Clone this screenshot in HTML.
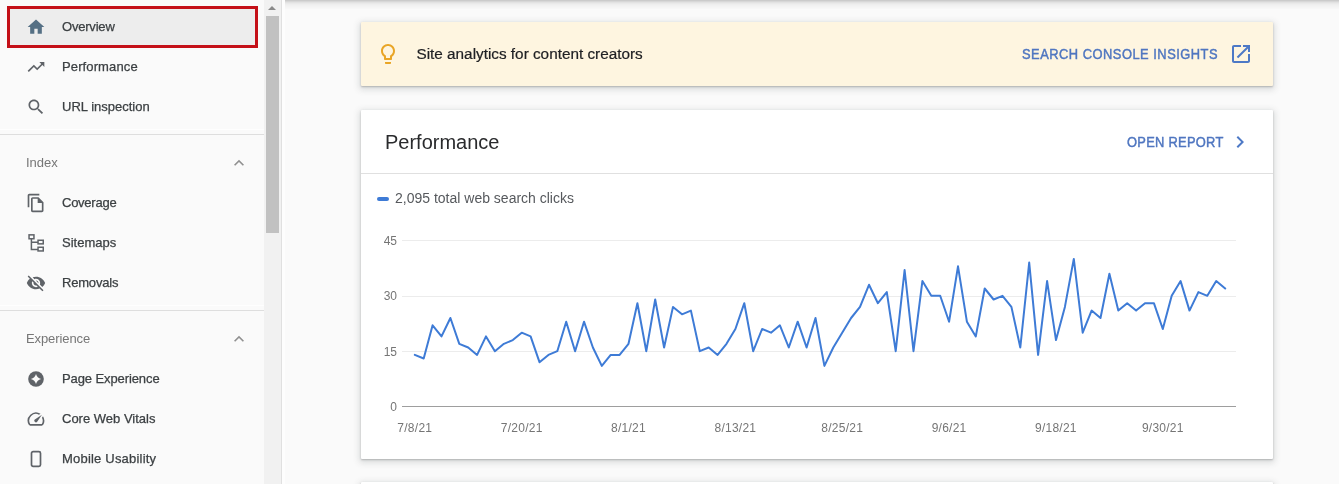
<!DOCTYPE html>
<html><head><meta charset="utf-8">
<style>
*{box-sizing:border-box;margin:0;padding:0}
html,body{width:1339px;height:484px;overflow:hidden;background:#fafafa;font-family:"Liberation Sans",Arial,sans-serif;position:relative}
.abs{position:absolute}
#nav{left:0;top:0;width:264px;height:484px;background:#fafafa}
#track{left:264px;top:0;width:17px;height:484px;background:#f1f1f1}
#thumb{left:266px;top:16px;width:13px;height:217px;background:#c1c1c1}
#arrow{left:268px;top:6px;width:0;height:0;border-left:4px solid transparent;border-right:4px solid transparent;border-bottom:4px solid #8a8a8a}
#vline{left:281px;top:0;width:1px;height:484px;background:#e0e0e0}
#vwhite{left:282px;top:0;width:3px;height:484px;background:#fdfdfd}
#topshadow{left:285px;top:0;width:1054px;height:10px;background:linear-gradient(to bottom,#cbcbcb 0.5px,#d7d7d7 1.5px,#e2e2e2 2.5px,#e9e9e9 3.5px,#eeeeee 4.5px,#f1f1f1 5.5px,#f3f3f3 6.5px,#f5f5f5 7.5px,#f7f7f7 8.5px,#fafafa 9.5px)}
.item{position:absolute;left:0;width:264px;height:40px}
.item svg{position:absolute;left:26px;top:10px;width:20px;height:20px;fill:#5f6368}
.item span{position:absolute;left:62px;top:0;line-height:40px;font-size:13px;color:#3c4043;-webkit-text-stroke:0.25px #3c4043;white-space:nowrap}
.sect{position:absolute;left:26px;font-size:13px;color:#767676;line-height:20px}
.chev{position:absolute;left:229px;width:20px;height:20px;fill:#909090}
.divider{position:absolute;left:0;width:264px;height:1px;background:#dedede}
.wl{position:absolute;left:0;width:264px;height:1px;background:#fefefe}
#sel{left:7px;top:6px;width:251px;height:42px;border:3px solid #c41018;background:#ededed}
.card{position:absolute;left:361px;width:912px;background:#fff;box-shadow:0 1px 2px rgba(60,64,67,.3),0 2px 6px 2px rgba(60,64,67,.15);border-radius:1px}
#banner{top:22px;height:64px;background:#fef5e0}
#perf{top:110px;height:349px}
#next{top:482px;height:40px}
.link{position:absolute;color:#4f76c0;font-size:14px;font-weight:normal;-webkit-text-stroke:0.45px #4f76c0;white-space:nowrap;transform:scaleX(0.92);transform-origin:0 0}
</style></head><body>
<div id="nav" class="abs">
  <div id="sel" class="abs"></div>
  <div class="item" style="top:7px">
    <svg viewBox="0 0 24 24" style="fill:#557085"><path d="M10 20v-6h4v6h5v-8h3L12 3 2 12h3v8z"/></svg>
    <span style="letter-spacing:-0.2px">Overview</span>
  </div>
  <div class="item" style="top:47px">
    <svg viewBox="0 0 24 24"><path d="M16 6l2.29 2.29-4.88 4.88-4-4L2 16.59 3.41 18l6-6 4 4 6.3-6.29L22 12V6z"/></svg>
    <span style="letter-spacing:0.12px">Performance</span>
  </div>
  <div class="item" style="top:87px">
    <svg viewBox="0 0 24 24"><path d="M15.5 14h-.79l-.28-.27C15.41 12.59 16 11.11 16 9.5 16 5.91 13.09 3 9.5 3S3 5.91 3 9.5 5.91 16 9.5 16c1.61 0 3.09-.59 4.230-1.57l.27.28v.79l5 4.99L20.49 19l-4.99-5zm-6 0C7.01 14 5 11.99 5 9.5S7.010 5 9.5 5 14 7.01 14 9.5 11.99 14 9.5 14z"/></svg>
    <span>URL inspection</span>
  </div>
  <div class="wl" style="top:129px"></div><div class="divider" style="top:134px"></div>
  <div class="sect" style="top:153px">Index</div>
  <svg class="chev" viewBox="0 0 24 24" style="top:153px"><path d="M12 8l-6 6 1.41 1.41L12 10.83l4.59 4.58L18 14z"/></svg>
  <div class="item" style="top:183px">
    <svg viewBox="0 0 24 24"><path d="M16 1H4c-1.1 0-2 .9-2 2v14h2V3h12V1zm-1 4H8c-1.1 0-1.99.9-1.99 2L6 21c0 1.1.89 2 1.99 2H19c1.1 0 2-.9 2-2V11l-6-6zM8 21V7h6v5h5v9H8z"/></svg>
    <span style="letter-spacing:-0.25px">Coverage</span>
  </div>
  <div class="item" style="top:223px">
    <svg viewBox="0 0 20 20" style="fill:none;stroke:#5f6368;stroke-width:1.5"><rect x="3.05" y="1.85" width="4.9" height="3.9"/><path d="M5.4 5.8V16.9M4.65 16.6H12M5.4 9.3H12"/><rect x="12.05" y="7.25" width="5.2" height="3.6"/><rect x="12.05" y="14.25" width="5.2" height="3.7"/></svg>
    <span>Sitemaps</span>
  </div>
  <div class="item" style="top:263px">
    <svg viewBox="0 0 24 24"><path d="M12 7c2.76 0 5 2.24 5 5 0 .65-.13 1.26-.36 1.83l2.92 2.92c1.51-1.26 2.7-2.89 3.43-4.75-1.73-4.39-6-7.5-11-7.5-1.4 0-2.74.25-3.98.7l2.16 2.16C10.74 7.13 11.35 7 12 7zM2 4.27l2.28 2.28.46.46C3.08 8.3 1.78 10.02 1 12c1.73 4.39 6 7.5 11 7.5 1.550 0 3.03-.3 4.38-.84l.42.42L19.73 22 21 20.73 3.27 3 2 4.27zM7.53 9.8l1.55 1.55c-.05.21-.08.43-.08.65 0 1.66 1.34 3 3 3 .22 0 .44-.03.65-.08l1.55 1.55c-.67.33-1.41.53-2.2.53-2.76 0-5-2.24-5-5 0-.79.2-1.53.53-2.2zm4.31-.78l3.15 3.15.02-.16c0-1.66-1.34-3-3-3l-.17.01z"/></svg>
    <span style="letter-spacing:-0.2px">Removals</span>
  </div>
  <div class="wl" style="top:305px"></div><div class="divider" style="top:310px"></div>
  <div class="sect" style="top:329px;letter-spacing:-0.1px">Experience</div>
  <svg class="chev" viewBox="0 0 24 24" style="top:329px"><path d="M12 8l-6 6 1.41 1.41L12 10.83l4.590 4.58L18 14z"/></svg>
  <div class="item" style="top:359px">
    <svg viewBox="0 0 20 20"><circle cx="10" cy="10" r="7.8"/><path d="M10 4.9Q11.1 8.9 15.1 10 11.1 11.1 10 15.1 8.9 11.1 4.9 10 8.9 8.9 10 4.9z" fill="#fafafa"/></svg>
    <span style="letter-spacing:-0.1px">Page Experience</span>
  </div>
  <div class="item" style="top:399px">
    <svg viewBox="0 0 24 24"><path d="M20.38 8.57l-1.23 1.85a8 8 0 0 1-.22 7.58H5.07A8 8 0 0 1 15.58 6.85l1.85-1.23A10 10 0 0 0 3.35 19a2 2 0 0 0 1.72 1h13.85a2 2 0 0 0 1.74-1 10 10 0 0 0-.27-10.44zm-9.79 6.84a2 2 0 0 0 2.83 0l5.66-8.490-8.49 5.66a2 2 0 0 0 0 2.83z"/></svg>
    <span>Core Web Vitals</span>
  </div>
  <div class="item" style="top:439px">
    <svg viewBox="0 0 20 20" style="fill:none;stroke:#5f6368;stroke-width:1.7"><rect x="5.5" y="2.7" width="9" height="14.6" rx="1.6"/></svg>
    <span style="letter-spacing:0.2px">Mobile Usability</span>
  </div>
</div>
<div id="track" class="abs"></div>
<div id="thumb" class="abs"></div>
<div id="arrow" class="abs"></div>
<div id="vline" class="abs"></div>
<div id="vwhite" class="abs"></div>
<div id="topshadow" class="abs"></div>

<div id="banner" class="card">
  <svg class="abs" viewBox="0 0 24 24" style="left:15px;top:20px;width:24px;height:24px;fill:#e9a526"><path d="M9 21c0 .55.45 1 1 1h4c.55 0 1-.45 1-1v-1H9v1zm3-19C8.14 2 5 5.14 5 9c0 2.38 1.19 4.47 3 5.74V17c0 .55.45 1 1 1h6c.55 0 1-.45 1-1v-2.26c1.81-1.27 3-3.36 3-5.74 0-3.86-3.14-7-7-7zm2.85 11.1l-.85.6V16h-4v-2.3l-.85-.6C7.8 12.16 7 10.63 7 9c0-2.76 2.24-5 5-5s5 2.24 5 5c0 1.63-.8 3.16-2.15 4.1z"/></svg>
  <div class="abs" style="left:55.5px;top:0;line-height:64px;font-size:15.3px;color:#202124;-webkit-text-stroke:0.2px #202124;white-space:nowrap">Site analytics for content creators</div>
  <div class="link" style="left:661px;top:0;line-height:64px;letter-spacing:0.54px">SEARCH CONSOLE INSIGHTS</div>
  <svg class="abs" viewBox="0 0 24 24" style="left:868px;top:20px;width:24px;height:24px;fill:#4d79c6"><path d="M19 19H5V5h7V3H5c-1.11 0-2 .9-2 2v14c0 1.1.89 2 2 2h14c1.1 0 2-.9 2-2v-7h-2v7zM14 3v2h3.59l-9.83 9.83 1.41 1.41L19 6.41V10h2V3h-7z"/></svg>
</div>

<div id="perf" class="card">
  <div class="abs" style="left:24px;top:20px;font-size:20px;line-height:24px;color:#2a2b2d">Performance</div>
  <div class="link" style="left:766px;top:22px;line-height:20px;letter-spacing:0.3px">OPEN REPORT</div>
  <svg class="abs" viewBox="0 0 24 24" style="left:867px;top:20px;width:24px;height:24px;fill:#4d79c6"><path d="M10 6L8.59 7.41 13.17 12l-4.58 4.59L10 18l6-6z"/></svg>
  <div class="abs" style="left:0;top:63px;width:912px;height:1px;background:#e0e0e0"></div>
  <div class="abs" style="left:16px;top:87px;width:12px;height:4px;border-radius:2px;background:#3e7bd6"></div>
  <div class="abs" style="left:34px;top:79px;font-size:14px;line-height:18px;color:#56595d;white-space:nowrap">2,095 total web search clicks</div>
</div>
<div id="next" class="card"></div>

<svg class="abs" style="left:0;top:0" width="1339" height="484" viewBox="0 0 1339 484">
  <g stroke="#ececec" stroke-width="1">
    <line x1="402" y1="240.5" x2="1236" y2="240.5"/>
    <line x1="402" y1="296.5" x2="1236" y2="296.5"/>
    <line x1="402" y1="351.5" x2="1236" y2="351.5"/>
  </g>
  <line x1="402" y1="406.5" x2="1236" y2="406.5" stroke="#9e9e9e" stroke-width="1"/>
  <g font-family="Liberation Sans, Arial, sans-serif" font-size="12" fill="#757575" text-anchor="end">
    <text x="397" y="245">45</text>
    <text x="397" y="300">30</text>
    <text x="397" y="356">15</text>
    <text x="397" y="411">0</text>
  </g>
  <g font-family="Liberation Sans, Arial, sans-serif" font-size="12" fill="#757575" text-anchor="middle" letter-spacing="0.25">
    <text x="414.8" y="432">7/8/21</text>
    <text x="521.7" y="432">7/20/21</text>
    <text x="628.5" y="432">8/1/21</text>
    <text x="735.4" y="432">8/13/21</text>
    <text x="842.2" y="432">8/25/21</text>
    <text x="949.1" y="432">9/6/21</text>
    <text x="1055.9" y="432">9/18/21</text>
    <text x="1162.8" y="432">9/30/21</text>
  </g>
  <polyline fill="none" stroke="#3e7bd6" stroke-width="2" stroke-linejoin="round" stroke-linecap="round" points="414.8,354.9 423.7,358.5 432.6,325.3 441.5,336.4 450.4,318.0 459.3,343.8 468.2,347.5 477.1,354.9 486.0,336.4 494.9,351.2 503.9,343.8 512.8,340.1 521.7,332.7 530.6,336.4 539.5,362.2 548.4,354.9 557.3,351.2 566.2,321.7 575.1,351.2 584.0,321.7 592.9,347.5 601.8,365.9 610.7,354.9 619.6,354.9 628.5,343.8 637.4,303.2 646.3,351.2 655.2,299.5 664.1,347.5 673.0,306.9 682.0,314.3 690.9,310.6 699.8,351.2 708.7,347.5 717.6,354.9 726.5,343.8 735.4,329.0 744.3,303.2 753.2,351.2 762.1,329.0 771.0,332.7 779.9,325.3 788.8,347.5 797.7,321.7 806.6,347.5 815.5,318.0 824.4,365.9 833.3,347.5 842.2,332.7 851.1,318.0 860.0,306.9 869.0,284.8 877.9,303.2 886.8,292.1 895.7,351.2 904.6,270.0 913.5,351.2 922.4,281.1 931.3,295.8 940.2,295.8 949.1,321.7 958.0,266.3 966.9,321.7 975.8,336.4 984.7,288.5 993.6,299.5 1002.5,295.8 1011.4,306.9 1020.3,347.5 1029.2,262.6 1038.1,354.9 1047.1,281.1 1056.0,340.1 1064.9,306.9 1073.8,258.9 1082.7,332.7 1091.6,310.6 1100.5,318.0 1109.4,273.7 1118.3,310.6 1127.2,303.2 1136.1,310.6 1145.0,303.2 1153.9,303.2 1162.8,329.0 1171.7,295.8 1180.6,281.1 1189.5,310.6 1198.4,292.1 1207.3,295.8 1216.2,281.1 1225.2,288.5"/>
</svg>
</body></html>
